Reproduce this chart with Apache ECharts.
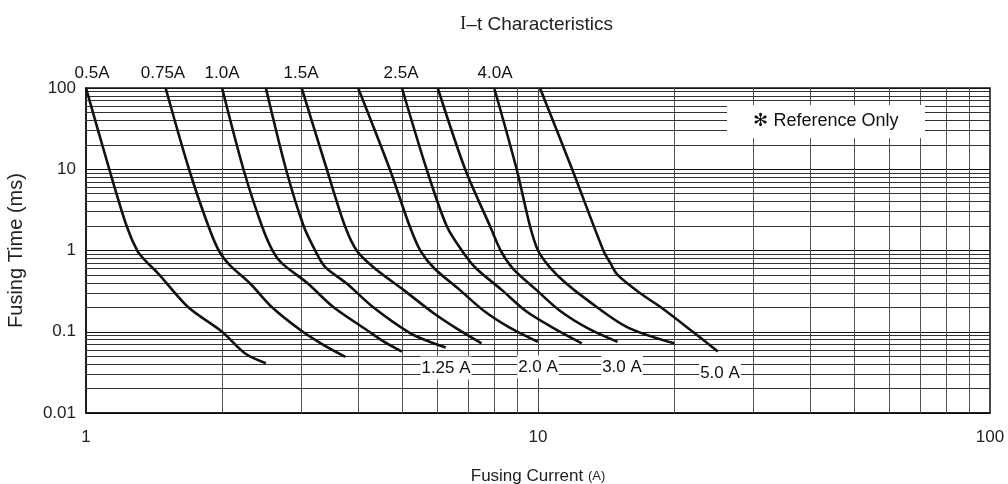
<!DOCTYPE html>
<html><head><meta charset="utf-8">
<script src="https://cdn.jsdelivr.net/npm/echarts@6/dist/echarts.min.js"></script>
<style>html,body{margin:0;padding:0;background:#fff}#c{width:1008px;height:484px}</style>
</head><body><div id="c"></div>
<script>
// Fuse ratings and their I-t curves: [current (A), time (ms)]
const ratings = ['0.5A','0.75A','1.0A','1.25A','1.5A','2.0A','2.5A','3.0A','4.0A','5.0A'];
const c050 = [[1.0,100],[1.126,10],[1.23,2],[1.30,0.98],[1.35,0.76],[1.445,0.52],[1.684,0.2],[2.0,0.1],[2.25,0.054],[2.5,0.041]];
const c075 = [[1.5,100],[1.69,10],[1.865,2],[1.97,0.98],[2.08,0.66],[2.31,0.39],[2.58,0.2],[2.98,0.105],[3.35,0.069],[3.75,0.049]];
const c100 = [[2.0,100],[2.23,10],[2.45,2],[2.59,0.98],[2.71,0.7],[3.1,0.39],[3.53,0.2],[4.18,0.105],[4.55,0.076],[5.0,0.057]];
const c125 = [[2.5,100],[2.77,10],[3.03,2],[3.22,0.98],[3.38,0.63],[3.78,0.39],[4.32,0.2],[5.21,0.096],[5.7,0.077],[6.25,0.064]];
const c150 = [[3.0,100],[3.41,10],[3.74,2],[3.98,0.98],[4.4,0.575],[5.03,0.33],[5.87,0.17],[6.6,0.11],[7.5,0.072]];
const c200 = [[4.0,100],[4.7,10],[5.2,2],[5.5,0.98],[5.9,0.6],[6.7,0.33],[7.6,0.18],[8.6,0.115],[10,0.075]];
const c250 = [[5.0,100],[5.67,10],[6.28,2],[6.8,0.98],[7.3,0.6],[8.3,0.33],[9.4,0.18],[10.7,0.115],[12.5,0.072]];
const c300 = [[6.0,100],[6.9,10],[7.83,2],[8.28,0.98],[8.8,0.6],[9.9,0.33],[11.2,0.18],[12.9,0.11],[15,0.075]];
const c400 = [[8.0,100],[8.97,10],[9.6,2],[10.0,1.0],[10.6,0.63],[11.5,0.4],[12.8,0.25],[15.7,0.115],[20,0.072]];
const c500 = [[10.1,100],[11.9,10],[13.95,1.0],[14.46,0.7],[15.0,0.5],[16.8,0.3],[18.7,0.2],[22,0.1],[25,0.057]];
const curveData = [c050,c075,c100,c125,c150,c200,c250,c300,c400,c500];

// axis ticks and minor grid positions
const xTicks = [1,10,100];
const yTicks = [0.01,0.1,1,10,100];
const xMinor = [2,3,4,5,6,7,8,9,20,30,40,50,60,70,80,90];
const yMinor = [0.02,0.03,0.04,0.05,0.06,0.07,0.08,0.09,0.2,0.3,0.4,0.5,0.6,0.7,0.8,0.9,2,3,4,5,6,7,8,9,20,30,40,50,60,70,80,90];

// curve labels
const topLabels = [['0.5A',92],['0.75A',163],['1.0A',222],['1.5A',301],['2.5A',401],['4.0A',495]];
const bottomLabels = [['1.25 A',446,368],['2.0 A',538,367],['3.0 A',622,367],['5.0 A',720,373]];

const FONT = '"Liberation Sans", Arial, Helvetica, sans-serif';
const chart = echarts.init(document.getElementById('c'));

const series = [{
  type:'line', data:[], silent:true, z:1,
  markLine:{
    silent:true, symbol:['none','none'], label:{show:false}, animation:false,
    data: xMinor.map(v=>({xAxis:v, lineStyle:{color:'#555', width:1, type:'solid'}}))
      .concat(yMinor.map(v=>({yAxis:v, lineStyle:{color:'#333', width:1, type:'solid'}})))
  }
}];
curveData.forEach((d,i)=>{
  series.push({
    name: ratings[i], type:'line', data:d, smooth:0.3, showSymbol:false, z:5,
    lineStyle:{color:'#111', width:2.6}, animation:false
  });
});

const graphics = [];
topLabels.forEach(([t,x])=>graphics.push({type:'text', x:x, y:73, z:100,
  style:{text:t, font:'17px '+FONT, fill:'#111', align:'center', verticalAlign:'middle'}}));
bottomLabels.forEach(([t,x,y])=>graphics.push({type:'text', x:x, y:y, z:100,
  style:{text:t, font:'17px '+FONT, fill:'#111', align:'center', verticalAlign:'middle',
    backgroundColor:'#fff', padding:[3,1,3,1]}}));
graphics.push({type:'rect', shape:{x:727, y:105, width:198, height:33}, z:99, style:{fill:'#fff'}});
graphics.push({type:'text', x:826, y:121, z:100,
  style:{text:'\u273B Reference Only', font:'18px '+FONT, fill:'#111', align:'center', verticalAlign:'middle'}});

chart.setOption({
  animation:false,
  backgroundColor:'#fff',
  title:{
    text:'{s|I}{n|\u2013t Characteristics}', left:455, top:10,
    textStyle:{rich:{
      s:{fontFamily:'"Liberation Serif", serif', fontSize:19, fontWeight:'normal', color:'#222'},
      n:{fontFamily:FONT, fontSize:19, fontWeight:'normal', color:'#222'}
    }}
  },
  grid:{left:86, right:18, top:88, bottom:71, show:true, borderColor:'#111', borderWidth:1.5,
    backgroundColor:'transparent', outerBoundsMode:'none', containLabel:false},
  xAxis:{
    type:'log', logBase:10, min:xTicks[0], max:xTicks[xTicks.length-1],
    name:'{n|Fusing Current }{s|(A)}', nameLocation:'middle', nameGap:55,
    nameTextStyle:{rich:{n:{fontFamily:FONT, fontSize:17, color:'#222'}, s:{fontFamily:FONT, fontSize:13, color:'#222'}}},
    axisLine:{show:true, lineStyle:{color:'#111', width:1.5}},
    axisTick:{show:false},
    axisLabel:{fontFamily:FONT, fontSize:17, color:'#222', margin:16, formatter:v=>String(v)},
    splitLine:{show:true, lineStyle:{color:'#444', width:1}},
    minorTick:{show:false}, minorSplitLine:{show:false}
  },
  yAxis:{
    type:'log', logBase:10, min:yTicks[0], max:yTicks[yTicks.length-1],
    name:'Fusing Time (ms)', nameLocation:'middle', nameGap:60, nameRotate:90,
    nameTextStyle:{fontFamily:FONT, fontSize:20, color:'#222'},
    axisLine:{show:true, lineStyle:{color:'#111', width:1.5}},
    axisTick:{show:false},
    axisLabel:{fontFamily:FONT, fontSize:17, color:'#222', margin:10, formatter:v=>String(+v.toPrecision(3))},
    splitLine:{show:true, lineStyle:{color:'#111', width:1.2}},
    minorTick:{show:false}, minorSplitLine:{show:false}
  },
  series: series,
  graphic: graphics
});
</script>
</body></html>
